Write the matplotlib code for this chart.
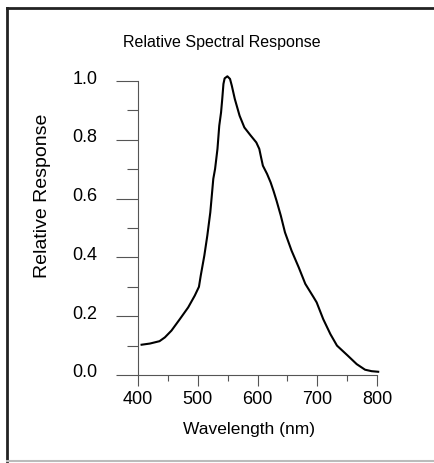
import numpy as np
import matplotlib
matplotlib.use("Agg")
import matplotlib.pyplot as plt
from matplotlib.lines import Line2D
from matplotlib.ticker import MultipleLocator
from matplotlib.transforms import ScaledTranslation

plt.rcParams['font.family'] = ['Liberation Sans', 'DejaVu Sans']

# wavelength (nm) and relative response
wavelength = [406, 420, 436, 445, 456, 470, 484, 495, 502, 505, 511, 516, 521, 524,
              526, 529, 533, 536, 539, 541, 543, 545, 549.6, 554, 557, 562, 570,
              578, 588, 598, 603, 606, 609, 616, 622, 627, 632, 639, 646, 657, 669,
              680, 694, 699, 710, 722, 733, 751, 766, 780, 791, 802]
response = [0.103, 0.107, 0.115, 0.128, 0.151, 0.190, 0.230, 0.270, 0.300, 0.338,
            0.406, 0.474, 0.553, 0.621, 0.667, 0.701, 0.769, 0.848, 0.893, 0.939,
            0.990, 1.009, 1.016, 1.007, 0.984, 0.939, 0.882, 0.842, 0.816, 0.791,
            0.769, 0.740, 0.712, 0.684, 0.655, 0.625, 0.592, 0.542, 0.485, 0.423,
            0.366, 0.310, 0.264, 0.247, 0.190, 0.139, 0.100, 0.066, 0.037, 0.018,
            0.013, 0.011]

xticks = [400, 500, 600, 700, 800]
yticks = [0.0, 0.2, 0.4, 0.6, 0.8, 1.0]

fig = plt.figure(figsize=(4.35, 4.64), dpi=100)
ax = fig.add_axes([138 / 435, 1 - 376 / 464, 239 / 435, 294 / 464])

ax.plot(wavelength, response, color='black', lw=1.5, clip_on=False,
        solid_joinstyle='round')
ax.set_xlim(400, 800)
ax.set_ylim(0, 1.0)

for s in ['top', 'right']:
    ax.spines[s].set_visible(False)
for s in ['left', 'bottom']:
    ax.spines[s].set_color('#555555')
    ax.spines[s].set_linewidth(0.8)

ax.set_xticks(xticks)
ax.set_yticks(yticks)
ax.set_yticklabels(['%.1f' % v for v in yticks])
ax.xaxis.set_minor_locator(MultipleLocator(50))
ax.yaxis.set_minor_locator(MultipleLocator(0.1))
ax.tick_params(axis='y', which='major', length=16, width=0.8, color='#555555',
               labelsize=13, pad=13)
ax.tick_params(axis='y', which='minor', length=8, width=0.8, color='#555555')
ax.tick_params(axis='x', which='major', length=8, width=0.8, color='#555555',
               labelsize=13, pad=3)
ax.tick_params(axis='x', which='minor', length=4.3, width=0.8, color='#555555')

# y tick labels sit a little above their ticks in the original
up = ScaledTranslation(0, 5 / 100, fig.dpi_scale_trans)
for lab in ax.get_yticklabels():
    lab.set_transform(lab.get_transform() + up)

ax.set_xlabel('Wavelength (nm)', fontsize=12.5)
ax.xaxis.set_label_coords((249 - 138) / 239, -(430 - 376) / 294)
ax.xaxis.label.set_va('center')
ax.set_ylabel('Relative Response', fontsize=14)
ax.yaxis.set_label_coords((42 - 138) / 239, (376 - 196) / 294)
ax.yaxis.label.set_va('center')
fig.text(222 / 435, 1 - 43 / 464, 'Relative Spectral Response', fontsize=11.5,
         ha='center', va='center')

# frame around the figure
fig.add_artist(Line2D([7 / 435, 1.0], [1 - 9 / 464, 1 - 9 / 464], color='#222222', lw=2))
fig.add_artist(Line2D([7 / 435, 7 / 435], [1 - 9 / 464, 1 - 462 / 464], color='#222222', lw=2))
fig.add_artist(Line2D([7 / 435, 1.0], [1 - 462 / 464, 1 - 462 / 464], color='#bbbbbb', lw=1.5))

fig.savefig('out.png', dpi=100)
